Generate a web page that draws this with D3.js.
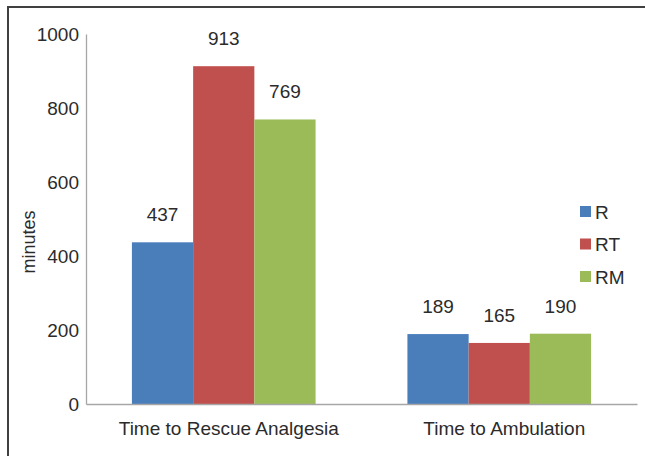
<!DOCTYPE html>
<html>
<head>
<meta charset="utf-8">
<script src="https://cdn.jsdelivr.net/npm/d3@7"></script>
<style>
  html, body { margin: 0; padding: 0; background: #fff; }
  svg { display: block; font-family: "Liberation Sans", Arial, sans-serif; }
</style>
</head>
<body>
<svg id="chart" width="645" height="456"></svg>
<script>
// Outcome measures per treatment group
const categories = ["Time to Rescue Analgesia", "Time to Ambulation"];
const seriesNames = ["R", "RT", "RM"];
const valuesR  = [437, 189];
const valuesRT = [913, 165];
const valuesRM = [769, 190];
const yTicks = [0, 200, 400, 600, 800, 1000];
const seriesColors = ["#4a7ebb", "#c0504d", "#9bbb59"];

const seriesValues = [valuesR, valuesRT, valuesRM];
const rows = categories.map((c, i) => ({
  category: c,
  bars: seriesNames.map((s, j) => ({ series: s, value: seriesValues[j][i] }))
}));

const svg = d3.select("#chart");
const plot = { left: 86, right: 637, top: 34, bottom: 404 };
const textColor = "#2b2b2b";
const fontSize = "19px";

// Outer frame (left and top edges)
svg.append("path")
  .attr("d", "M8,456 V7 H645")
  .attr("fill", "none")
  .attr("stroke", "#404040")
  .attr("stroke-width", 2);

const x0 = d3.scaleBand()
  .domain(categories)
  .range([plot.left, plot.right])
  .paddingInner(1 / 3)
  .paddingOuter(1 / 6);

const x1 = d3.scaleBand()
  .domain(seriesNames)
  .range([0, x0.bandwidth()]);

const y = d3.scaleLinear()
  .domain([0, 1000])
  .range([plot.bottom, plot.top]);

const color = d3.scaleOrdinal().domain(seriesNames).range(seriesColors);

// Y axis
const yAxis = svg.append("g")
  .attr("transform", `translate(${plot.left},0)`)
  .call(d3.axisLeft(y).tickValues(yTicks).tickFormat(d3.format("d")).tickSize(0).tickPadding(7));
yAxis.select(".domain").attr("stroke", "#a6a6a6").attr("stroke-width", 1.3);
yAxis.selectAll("text")
  .attr("fill", textColor)
  .style("font-size", fontSize)
  .style("font-family", "Liberation Sans, Arial, sans-serif");

// Bars
const groups = svg.append("g").selectAll("g")
  .data(rows)
  .join("g")
  .attr("transform", d => `translate(${x0(d.category)},0)`);

groups.selectAll("rect")
  .data(d => d.bars)
  .join("rect")
  .attr("x", d => x1(d.series))
  .attr("y", d => y(d.value))
  .attr("width", x1.bandwidth())
  .attr("height", d => y(0) - y(d.value))
  .attr("fill", d => color(d.series));

// Value labels above each bar
groups.selectAll("text.value")
  .data(d => d.bars)
  .join("text")
  .attr("class", "value")
  .attr("x", d => x1(d.series) + x1.bandwidth() / 2)
  .attr("y", d => y(d.value) - 21)
  .attr("text-anchor", "middle")
  .attr("fill", textColor)
  .style("font-size", fontSize)
  .text(d => d.value);

// X axis
const xAxis = svg.append("g")
  .attr("transform", `translate(0,${plot.bottom})`)
  .call(d3.axisBottom(x0).tickSize(0).tickPadding(18).tickSizeOuter(0));
xAxis.select(".domain").attr("stroke", "#a6a6a6").attr("stroke-width", 1.3);
xAxis.selectAll("text")
  .attr("dx", 5)
  .attr("fill", textColor)
  .style("font-size", fontSize)
  .style("font-family", "Liberation Sans, Arial, sans-serif");

// Y axis title
svg.append("text")
  .attr("transform", "translate(35,242) rotate(-90)")
  .attr("text-anchor", "middle")
  .attr("fill", textColor)
  .style("font-size", "18px")
  .text("minutes");

// Legend
const legend = svg.append("g").attr("transform", "translate(580,206)");
const items = legend.selectAll("g")
  .data(seriesNames)
  .join("g")
  .attr("transform", (d, i) => `translate(0,${i * 32.5})`);
items.append("rect")
  .attr("width", 11)
  .attr("height", 11)
  .attr("fill", d => color(d));
items.append("text")
  .attr("x", 15)
  .attr("y", 12.5)
  .attr("fill", textColor)
  .style("font-size", fontSize)
  .text(d => d);
</script>
</body>
</html>
